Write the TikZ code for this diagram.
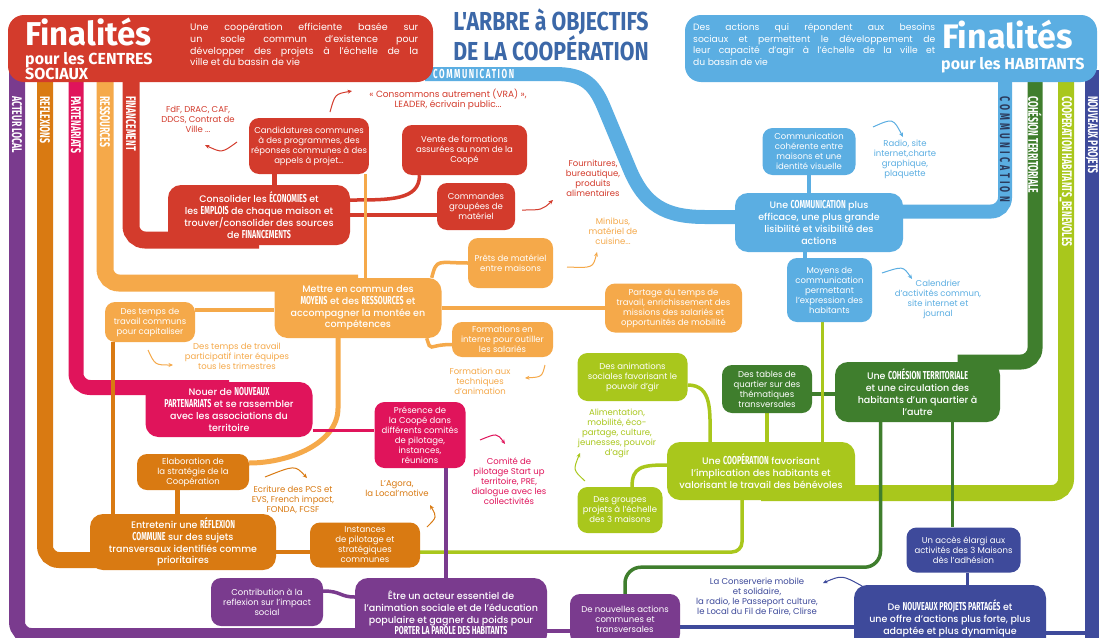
\documentclass[tikz,border=0pt]{standalone}
\usepackage{fontspec}
\setmainfont{Poppins}[BoldFont={Poppins Medium}]
\newfontfamily\wide{Fira Sans}
\newfontfamily\tcond{Fira Sans}[FakeStretch=0.82]
\newfontfamily\cond{Fira Sans}[FakeStretch=0.62]
\usetikzlibrary{positioning,calc,backgrounds,arrows.meta}

\definecolor{redc}{HTML}{D33B2C}
\definecolor{ressc}{HTML}{F5A94A}
\definecolor{reflc}{HTML}{D97A12}
\definecolor{partc}{HTML}{E0145B}
\definecolor{purpc}{HTML}{7A3B8E}
\definecolor{bluec}{HTML}{5BAEE2}
\definecolor{cohc}{HTML}{3F7E2D}
\definecolor{coopc}{HTML}{A9C71C}
\definecolor{projc}{HTML}{3E4A9B}
\definecolor{titlec}{HTML}{3C68A8}
\definecolor{inkc}{HTML}{2B3A5C}

\newcommand{\goalfont}{\fontsize{9.5}{11.8}\selectfont\bfseries}
\newcommand{\leaffont}{\fontsize{8.5}{10}\selectfont}
\newcommand{\barfont}{\cond\bfseries\fontsize{14}{14}\selectfont}
\newcommand{\kw}[1]{{\cond\bfseries\fontsize{11.5}{11.8}\selectfont #1}}

\tikzset{
  trunk/.style={line width=16pt, rounded corners=14pt},
  branch/.style={line width=3.5pt},
  goal/.style={fill=#1, rounded corners=13pt, text=white, align=center, inner sep=3pt, font=\goalfont},
  leaf/.style={fill=#1, rounded corners=10pt, text=white, align=center, inner sep=2pt, font=\leaffont},
  note/.style={text=#1, align=center, font=\leaffont, inner sep=1pt},
  hint/.style={draw=#1, line width=1pt, -{Stealth[length=4.5pt,width=4pt]}},
  barlabel/.style={rotate=-90, anchor=west, text=white, font=\barfont, inner sep=0pt},
}

\begin{document}
\begin{tikzpicture}[x=1pt,y=-1pt]
  \useasboundingbox (0,0) rectangle (1099,637);

  % banners
  \fill[redc, rounded corners=16pt] (8,15) rectangle (433,82);
  \fill[bluec, rounded corners=16pt] (685,15) rectangle (1097,82);

  \node[anchor=base west, inner sep=0, text=white, font=\wide\bfseries\fontsize{33}{33}\selectfont] (fincs) at (25,45) {Finalités};
  \node[anchor=base west, inner sep=0, text=white, font=\wide\bfseries\fontsize{16}{16}\selectfont] (pourcs) at (25,64) {pour les CENTRES};
  \node[anchor=base west, inner sep=0, text=white, font=\wide\bfseries\fontsize{16}{16}\selectfont] (sociaux) at (25,79) {SOCIAUX};
  \node[anchor=north west, inner sep=0, text=white, text width=228pt, align=justify, font=\fontsize{9.5}{11.7}\selectfont] (butcs) at (190,23)
    {Une coopération efficiente basée sur\linebreak un socle commun d'existence pour\linebreak développer des projets à l'échelle de la\linebreak ville et du bassin de vie};

  \node[anchor=base west, inner sep=0, text=white, font=\wide\bfseries\fontsize{34}{34}\selectfont] (finhab) at (942,48) {Finalités};
  \node[anchor=base west, inner sep=0, text=white, font=\wide\bfseries\fontsize{16}{16}\selectfont] (pourhab) at (941,69) {pour les HABITANTS};
  \node[anchor=north west, inner sep=0, text=white, text width=242pt, align=justify, font=\fontsize{9.2}{11.7}\selectfont] (buthab) at (693,23)
    {Des actions qui répondent aux besoins\linebreak sociaux et permettent le développement de\linebreak leur capacité d'agir à l'échelle de la ville et\linebreak du bassin de vie};

  \node[text=titlec, align=center, font=\tcond\bfseries\fontsize{26}{22}\selectfont] (titre) at (551,35) {L'ARBRE à OBJECTIFS\\DE LA COOPÉRATION};

  % labels on the trunks
  \foreach \x/\t [count=\i] in {17/ACTEUR LOCAL, 45/REFLEXIONS, 76/PARTENARIATS, 105/RESSOURCES, 131/FINANCEMENT, 1035/COHÉSION TERRITORIALE, 1066/COOPERATION HABITANTS\_BENEVOLES, 1092/NOUVEAUX PROJETS}
    \node[barlabel] (lab\i) at (\x,96) {\t};
  \node[barlabel, text=inkc, font=\barfont\addfontfeature{LetterSpace=23}] (labcom) at (1005,96) {COMMUNICATION};
  \node[anchor=west, inner sep=0, text=white, font=\cond\bfseries\fontsize{13}{13}\selectfont\addfontfeature{LetterSpace=12}] (labcomtop) at (433,74) {COMMUNICATION};

  % financement
  \node[goal=redc, minimum width=182pt, minimum height=60pt] (conso) at (259,215) {Consolider les \kw{ÉCONOMIES} et\\les \kw{EMPLOIS} de chaque maison et\\trouver/consolider des sources\\de \kw{FINANCEMENTS}};
  \node[leaf=redc, minimum width=118pt, minimum height=56pt] (cand) at (309,146) {Candidatures communes\\à des programmes, des\\réponses communes à des\\appels à projet...};
  \node[leaf=redc, minimum width=125pt, minimum height=50pt] (vente) at (464.5,150) {Vente de formations\\assurées au nom de la\\Coopé};
  \node[leaf=redc, minimum width=78pt, minimum height=47pt] (cmd) at (476,206.5) {Commandes\\groupées de\\matériel};
  \node[note=redc] (nfdf) at (198,119) {FdF, DRAC, CAF,\\DDCS, Contrat de\\Ville ...};
  \node[note=redc, font=\fontsize{9}{10}\selectfont] (nvra) at (448,99) {« Consommons autrement (VRA) »,\\LEADER, écrivain public...};
  \node[note=redc] (nfourn) at (593,178) {Fournitures,\\bureautique,\\produits\\alimentaires};

  % ressources
  \node[goal=ressc, minimum width=167pt, minimum height=60pt] (mettre) at (358,308) {Mettre en commun des\\\kw{MOYENS} et des \kw{RESSOURCES} et\\accompagner la montée en\\compétences};
  \node[leaf=ressc, minimum width=85pt, minimum height=50pt] (prets) at (510.5,263) {Prêts de matériel\\entre maisons};
  \node[leaf=ressc, minimum width=137pt, minimum height=49pt] (partage) at (673.5,308) {Partage du temps de\\travail, enrichissement des\\missions des salariés et\\opportunités de mobilité};
  \node[leaf=ressc, minimum width=101pt, minimum height=35pt] (form) at (502.5,339.5) {Formations en\\interne pour outiller\\les salariés};
  \node[leaf=ressc, minimum width=90pt, minimum height=40pt] (temps) at (150,322) {Des temps de\\travail communs\\pour capitaliser};
  \node[note=ressc] (nminibus) at (613,231) {Minibus,\\matériel de\\cuisine...};
  \node[note=ressc] (ntrim) at (237,356) {Des temps de travail\\participatif inter équipes\\tous les trimestres};
  \node[note=ressc] (nformanim) at (480,381) {Formation aux\\techniques\\d'animation};

  % reflexions
  \node[leaf=reflc, minimum width=112pt, minimum height=36pt] (elab) at (193,472) {Elaboration de\\la stratégie de la\\Coopération};
  \node[goal=reflc, minimum width=186pt, minimum height=56pt] (entre) at (183,542) {Entretenir une \kw{RÉFLEXION}\\\kw{COMMUNE} sur des sujets\\transversaux identifiés comme\\prioritaires};
  \node[leaf=reflc, minimum width=110pt, minimum height=45pt] (inst) at (365,545) {Instances\\de pilotage et\\stratégiques\\communes};
  \node[note=reflc] (necrit) at (293,500) {Ecriture des PCS et\\EVS, French impact,\\FONDA, FCSF};
  \node[note=reflc] (nagora) at (397,489) {L'Agora,\\la Local'motive};

  % partenariats
  \node[goal=partc, minimum width=167pt, minimum height=55pt] (nouer) at (229,409.5) {Nouer de \kw{NOUVEAUX}\\\kw{PARTENARIATS} et se rassembler\\avec les associations du\\territoire};
  \node[leaf=partc, minimum width=91pt, minimum height=66pt] (pres) at (420,435) {Présence de\\la Coopé dans\\différents comités\\de pilotage,\\instances,\\réunions};
  \node[note=partc] (ncomite) at (509,481) {Comité de\\pilotage Start up\\territoire, PRE,\\dialogue avec les\\collectivités};

  % acteur local
  \node[goal=purpc, minimum width=192pt, minimum height=70pt] (etre) at (451,613) {Être un acteur essentiel de\\l'animation sociale et de l'éducation\\populaire et gagner du poids pour\\\kw{PORTER LA PAROLE DES HABITANTS}};
  \node[leaf=purpc, minimum width=112pt, minimum height=48pt] (contrib) at (267,602) {Contribution à la\\reflexion sur l'impact\\social};
  \node[leaf=purpc, minimum width=110pt, minimum height=50pt] (nouv) at (625,619) {De nouvelles actions\\communes et\\transversales};

  % communication
  \node[goal=bluec, minimum width=168pt, minimum height=59pt] (comm) at (819,222.5) {Une \kw{COMMUNICATION} plus\\efficace, une plus grande\\lisibilité et visibilité des\\actions};
  \node[leaf=bluec, minimum width=93pt, minimum height=47pt] (commco) at (809,151.5) {Communication\\cohérente entre\\maisons et une\\identité visuelle};
  \node[leaf=bluec, minimum width=85pt, minimum height=64pt] (moyens) at (829.5,290) {Moyens de\\communication\\permettant\\l'expression des\\habitants};
  \node[note=bluec] (nradio) at (905,159) {Radio, site\\internet,charte\\graphique,\\plaquette};
  \node[note=bluec] (ncal) at (938,299) {Calendrier\\d'activités commun,\\site internet et\\journal};

  % cohesion territoriale
  \node[goal=cohc, minimum width=165pt, minimum height=60pt] (coh) at (917.5,392) {Une \kw{COHÉSION TERRITORIALE}\\et une circulation des\\habitants d'un quartier à\\l'autre};
  \node[leaf=cohc, minimum width=90pt, minimum height=48pt] (tables) at (767,389) {Des tables de\\quartier sur des\\thématiques\\transversales};

  % cooperation habitants
  \node[goal=coopc, minimum width=188pt, minimum height=58pt] (coop) at (761,471) {Une \kw{COOPÉRATION} favorisant\\l'implication des habitants et\\valorisant le travail des bénévoles};
  \node[leaf=coopc, minimum width=110pt, minimum height=48pt] (anim) at (632.5,377) {Des animations\\sociales favorisant le\\pouvoir d'gir};
  \node[leaf=coopc, minimum width=85pt, minimum height=46pt] (groupes) at (620,510) {Des groupes\\projets à l'échelle\\des 3 maisons};
  \node[note=coopc] (nalim) at (617,433) {Alimentation,\\mobilité, éco-\\partage, culture,\\jeunesses, pouvoir\\d'agir};

  % nouveaux projets
  \node[goal=projc, minimum width=192pt, minimum height=66pt] (proj) at (950,618) {De \kw{NOUVEAUX PROJETS PARTAGÉS} et\\une offre d'actions plus forte, plus\\adaptée et plus dynamique};
  \node[leaf=projc, minimum width=114pt, minimum height=45pt] (acces) at (963.5,550) {Un accès élargi aux\\activités des 3 Maisons\\dès l'adhésion};
  \node[note=projc] (nconserv) at (757,597) {La Conserverie mobile\\et solidaire,\\la radio, le Passeport culture,\\le Local du Fil de Faire, Clirse};

  % small curved arrows
  \draw[hint=redc] (237,142) .. controls (222,153) .. (205,145);
  \draw[hint=redc] (330,112) .. controls (335,94) .. (352,91);
  \draw[hint=redc] (522,210) .. controls (542,210) .. (553,200);
  \draw[hint=ressc] (567,267) .. controls (593,268) .. (597,252);
  \draw[hint=ressc] (148,350) .. controls (155,365) .. (173,365);
  \draw[hint=ressc] (545,365) .. controls (542,377) .. (525,378);
  \draw[hint=reflc] (265,477) .. controls (295,465) .. (307,478);
  \draw[hint=reflc] (427,527) .. controls (437,517) .. (430,505);
  \draw[hint=partc] (480,440) .. controls (497,433) .. (505,444);
  \draw[hint=bluec] (873,127) .. controls (893,118) .. (903,137);
  \draw[hint=bluec] (882,273) .. controls (903,266) .. (912,279);
  \draw[hint=coopc] (585,481) .. controls (573,470) .. (580,453);
  \draw[hint=projc] (862,586) .. controls (842,575) .. (823,583);

  \begin{scope}[on background layer]
    \fill[white] (0,0) rectangle (1099,637);
    % trunks
    \draw[trunk, purpc] (17,70) |- ([yshift=-23pt]etre.center);
    \draw[trunk, reflc] (45,70) |- ([yshift=-18pt]entre.center);
    \draw[trunk, partc, line width=15pt] (76,70) |- ([yshift=22pt]nouer.center);
    \draw[trunk, ressc, line width=17pt] (105,70) |- ([yshift=25pt]mettre.center);
    \draw[trunk, redc, line width=17pt] (131,70) |- ([yshift=-25pt]conso.center);
    \draw[trunk, bluec, line width=14pt] (1005,70) |- ([yshift=11pt]comm.center);
    \draw[trunk, cohc, line width=15pt] (1035,70) |- ([xshift=40pt,yshift=30pt]coh.center);
    \draw[trunk, coopc] (1066,70) |- ([yshift=-22pt]coop.center);
    \draw[trunk, projc, line width=15pt] (1092,70) -- (1092,645);
    \draw[trunk, bluec, line width=14pt, rounded corners=0pt] (425,74) -- (555,74) .. controls (585,74) and (595,85) .. (605,110) -- (630,170) .. controls (645,205) and (665,217) .. (705,217) -- (comm.center |- 0,217);
    % branches
    \draw[branch, redc, line width=5pt] ([xshift=-35pt]cand.center) -- ([xshift=-35pt]cand.center |- conso.center);
    \draw[branch, redc] ([yshift=15pt]conso.east) .. controls +(40,0) and +(0,25) .. ([xshift=-45pt]vente.south);
    \draw[branch, redc] (conso.east) -- (conso.east -| cmd.west);
    \draw[branch, ressc, line width=3pt] ([xshift=7pt]mettre.north) -- ([xshift=7pt]mettre.north |- cand.south);
    \draw[branch, ressc] ([xshift=-10pt]mettre.north east) .. controls +(5,-20) and +(-30,0) .. (prets.west);
    \draw[branch, ressc] (mettre) -- (partage);
    \draw[branch, ressc] ([xshift=-15pt]mettre.south east) .. controls +(5,15) and +(-25,0) .. ([yshift=-5pt]form.west);
    \draw[branch, ressc] ([yshift=12pt]temps.east) -- ([yshift=12pt]temps.east -| mettre.west);
    \draw[branch, ressc, line width=5pt] ([xshift=-20pt]mettre.south) -- ++(0,70) .. controls +(0,35) and +(40,0) .. ([yshift=9pt]elab.east);
    \draw[branch, reflc] ([xshift=-37pt]temps.south) -- ([xshift=-37pt]temps.south |- entre.north);
    \draw[branch, reflc, line width=5pt] ([xshift=-16pt]elab.south) -- ([xshift=-16pt]elab.south |- entre.north);
    \draw[branch, reflc] ([yshift=-10pt]entre.center) -- ([yshift=-10pt]entre.center -| inst.center);
    \draw[branch, coopc, rounded corners=10pt] ([yshift=-7pt]inst.east) -| ([xshift=-19pt]coop.south);
    \draw[branch, partc] ([yshift=-21pt]nouer.east) -- ([yshift=-21pt]nouer.east -| pres.west);
    \draw[branch, purpc] ([xshift=26pt]pres.south) -- ([xshift=26pt]pres.south |- etre.north);
    \draw[branch, purpc] ([yshift=11pt]contrib.east) .. controls +(18,0) and +(-15,0) .. ([yshift=16pt]etre.west);
    \draw[branch, purpc] ([yshift=-18pt]etre.east) -- ([yshift=-18pt]etre.east -| nouv.west);
    \draw[branch, cohc, rounded corners=16pt] (nouv.north) |- ($(coh.south)+(-37,145)$) -- ([xshift=-37pt]coh.south);
    \draw[branch, projc] ([yshift=-8pt]nouv.east) -- ([yshift=-8pt]nouv.east -| proj.west);
    \draw[branch, projc] ([xshift=4pt]acces.south) -- ([xshift=4pt]acces.south |- proj.north);
    \draw[branch, projc] ([yshift=-15pt]proj.east) -- ++(50,0);
    \draw[branch, cohc] ([xshift=35pt]coh.south) -- ([xshift=35pt]coh.south |- acces.north);
    \draw[branch, cohc] ([yshift=-5pt]tables.east) -- ([yshift=-5pt]tables.east -| coh.west);
    \draw[branch, coopc] (tables.south) -- (tables.south |- coop.north);
    \draw[branch, coopc] ([xshift=-7pt]moyens.south) -- ([xshift=-7pt]moyens.south |- coop.north);
    \draw[branch, bluec] ([xshift=-14pt]comm.south) -- ([xshift=-14pt]comm.south |- moyens.north);
    \draw[branch, bluec] (commco.south) -- (commco.south |- comm.north);
    \draw[branch, coopc] ([yshift=-8pt]anim.east) .. controls +(25,0) and +(0,-30) .. ([xshift=-51pt]coop.north);
    \draw[branch, coopc] ([xshift=12pt]groupes.north) .. controls +(0,-20) and +(-25,0) .. ([yshift=6pt]coop.west);
  \end{scope}
\end{tikzpicture}
\end{document}
